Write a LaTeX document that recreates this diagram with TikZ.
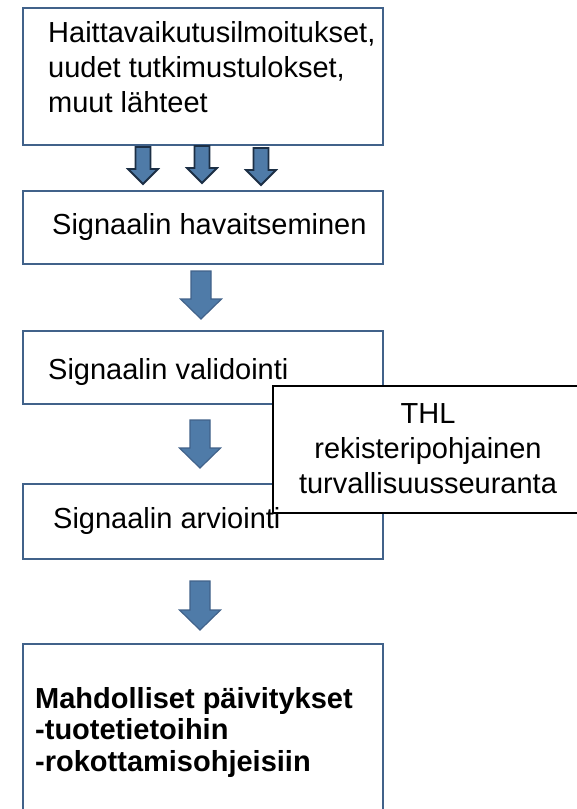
\documentclass[tikz,border=0pt]{standalone}
\usepackage{fontspec}
\setmainfont{Liberation Sans}
\definecolor{boxblue}{HTML}{41628A}
\definecolor{arrowfill}{HTML}{4F7BA8}
\definecolor{arrowdark}{HTML}{1C2F45}
\newcommand\myblockarrow[7]{% style, cx, top, headstart, tip, shafthalf, headhalf
  \draw[#1] ({#2-#6},#3) -- ({#2+#6},#3) -- ({#2+#6},#4) -- ({#2+#7},#4) -- (#2,#5)
    -- ({#2-#7},#4) -- ({#2-#6},#4) -- cycle;}
\begin{document}
\begin{tikzpicture}[x=1pt,y=-1pt,
  stepbox/.style={draw=boxblue, line width=2.2pt, fill=white, inner sep=0pt, anchor=north west},
  thlbox/.style={draw=black, line width=1.5pt, fill=white, inner sep=0pt, anchor=north west},
  txt/.style={inner sep=0pt, anchor=base west, font=\fontsize{29}{34.8}\selectfont, align=left},
  smallarrow/.style={fill=arrowfill, draw=arrowdark, line width=1.8pt, line join=miter},
  bigarrow/.style={fill=arrowfill, draw=boxblue, line width=1.2pt, line join=miter}]
\useasboundingbox (0,0) rectangle (577,809);
\path[clip] (0,0) rectangle (577,809);
\fill[white] (0,0) rectangle (577,809);
% boxes
\node[stepbox, minimum width=360pt, minimum height=137pt] (b1) at (22,7) {};
\node[stepbox, minimum width=360pt, minimum height=73pt] (b2) at (22,190) {};
\node[stepbox, minimum width=360pt, minimum height=73pt] (b3) at (22,330) {};
\node[stepbox, minimum width=360pt, minimum height=75pt] (b4) at (22,483) {};
\node[stepbox, minimum width=360pt, minimum height=190pt] (b5) at (22,643) {};
\node[thlbox, minimum width=320pt, minimum height=127pt] (thl) at (272,385) {};
% arrows
\myblockarrow{smallarrow}{143}{147}{169}{184}{7.5}{15}
\myblockarrow{smallarrow}{202}{146}{168}{183}{7.5}{15}
\myblockarrow{smallarrow}{261}{148}{170}{185}{7.5}{15}
\myblockarrow{bigarrow}{201}{271}{299}{319}{10}{20.5}
\myblockarrow{bigarrow}{200}{420}{448}{468}{10}{20.5}
\myblockarrow{bigarrow}{200}{581}{610}{630}{10}{20.5}
% texts (base anchor = baseline of last line)
\node[txt] (t1) at (48,112) {Haittavaikutusilmoitukset,\\uudet tutkimustulokset,\\muut lähteet};
\node[txt] (t2) at (52,234) {Signaalin havaitseminen};
\node[txt] (t3) at (48,379) {Signaalin validointi};
\node[txt, align=center, anchor=base] (t6) at (428,493) {THL\\rekisteripohjainen\\turvallisuusseuranta};
\node[txt] (t4) at (53,528) {Signaalin arviointi};
\node[txt, font=\bfseries\fontsize{29}{31.5}\selectfont] (t5) at (35,771) {Mahdolliset päivitykset\\-tuotetietoihin\\-rokottamisohjeisiin};
\end{tikzpicture}
\end{document}
